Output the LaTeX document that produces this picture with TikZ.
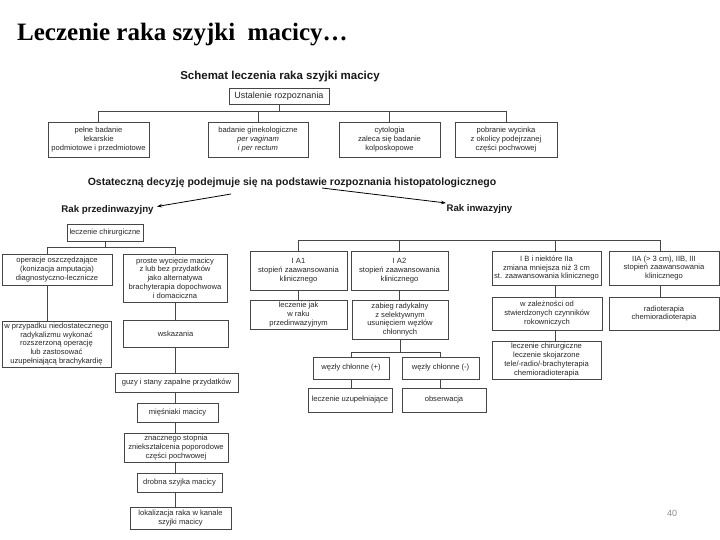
\documentclass[tikz,border=0pt]{standalone}
\usepackage{fontspec}
\setmainfont{Liberation Sans}
\newfontfamily\titlefont{Liberation Serif}
\usetikzlibrary{arrows.meta}
\definecolor{ink}{RGB}{40,40,40}
\definecolor{edge}{RGB}{70,70,70}
\tikzset{
  box/.style={draw=edge, line width=0.8pt, fill=white, align=center, inner sep=0pt,
    font=\fontsize{7.6}{8.8}\selectfont, text=ink},
  conn/.style={draw=edge, line width=0.8pt},
  arr/.style={draw=black, line width=0.8pt, -{Stealth[length=5pt,width=3.5pt]}},
  head/.style={font=\bfseries\fontsize{10.5}{12}\selectfont, text=black!90, inner sep=0pt},
}
\begin{document}
\begin{tikzpicture}[x=1pt,y=-1pt]
\useasboundingbox (0,0) rectangle (720,540);
% title
\node[anchor=west, inner sep=0pt, font=\titlefont\bfseries\fontsize{25}{28}\selectfont] (title) at (17,35) {Leczenie raka szyjki~ macicy\ldots};
\node[head, font=\bfseries\fontsize{11.5}{13}\selectfont] (sch) at (280,77) {Schemat leczenia raka szyjki macicy};
\node[box, minimum width=100, minimum height=16, font=\fontsize{9}{10}\selectfont] (ust) at (279,96) {Ustalenie rozpoznania};
% row 1
\node[box, minimum width=101, minimum height=35] (b1) at (98.5,139.5) {pełne badanie\\lekarskie\\podmiotowe i przedmiotowe};
\node[box, minimum width=100, minimum height=35] (b2) at (258,139.5) {badanie ginekologiczne\\\textit{per vaginam}\\\textit{i per rectum}};
\node[box, minimum width=101, minimum height=35] (b3) at (389.5,139.5) {cytologia\\zaleca się badanie\\kolposkopowe};
\node[box, minimum width=102, minimum height=35] (b4) at (506,139.5) {pobranie wycinka\\z okolicy podejrzanej\\części pochwowej};
\coordinate (bar1) at (0,111);
\draw[conn] (ust.south) -- (ust.south |- bar1);
\draw[conn] (b1.north) -- (b1.north |- bar1) -- (b4.north |- bar1) -- (b4.north);
\draw[conn] (b2.north) -- (b2.north |- bar1);
\draw[conn] (b3.north) -- (b3.north |- bar1);
% decision
\node[head] (dec) at (292,183) {Ostateczną decyzję podejmuje się na podstawie rozpoznania histopatologicznego};
\node[head, font=\bfseries\fontsize{9.7}{11}\selectfont] (rp) at (107.5,210) {Rak przedinwazyjny};
\node[head, font=\bfseries\fontsize{9.6}{11}\selectfont] (ri) at (479.5,209) {Rak inwazyjny};
\coordinate (tl) at (231,194);
\coordinate (tr) at (322,188);
\draw[arr] (tl) -- (157,206.5) coordinate (hl);
\draw[arr] (tr) -- (446,203) coordinate (hr);
% left branch
\node[box, minimum width=76, minimum height=17] (lc) at (105,232.5) {leczenie chirurgiczne};
\node[box, minimum width=110, minimum height=31] (op) at (57,269.5) {operacje oszczędzające\\(konizacja amputacja)\\diagnostyczno-lecznicze};
\node[box, minimum width=104, minimum height=48] (pw) at (175,278) {proste wycięcie macicy\\z lub bez przydatków\\jako alternatywa\\brachyterapia dopochwowa\\i domaciczna};
\node[box, minimum width=109, minimum height=46] (wp) at (56.5,344) {w przypadku niedostatecznego\\radykalizmu wykonać\\rozszerzoną operację\\lub zastosować\\uzupełniającą brachykardię};
\node[box, minimum width=105, minimum height=27] (wsk) at (175.5,333.5) {wskazania};
\node[box, minimum width=123, minimum height=19] (guzy) at (176.5,382.5) {guzy i stany zapalne przydatków};
\node[box, minimum width=81, minimum height=19] (mie) at (177.5,412.5) {mięśniaki macicy};
\node[box, minimum width=104, minimum height=29] (zna) at (176,447.5) {znacznego stopnia\\zniekształcenia poporodowe\\części pochwowej};
\node[box, minimum width=85, minimum height=19] (dro) at (179.5,482.5) {drobna szyjka macicy};
\node[box, minimum width=101, minimum height=22] (lok) at (180.5,518) {lokalizacja raka w kanale\\szyjki macicy};
\coordinate (bar2) at (0,247);
\draw[conn] (lc.south) -- (lc.south |- bar2);
\draw[conn] ([xshift=-10pt]op.north) -- ([xshift=-10pt]op.north |- bar2) -- (pw.north |- bar2) -- (pw.north);
\draw[conn] ([xshift=-10pt]op.south) -- ([xshift=-10pt]op.south |- wp.north);
\draw[conn] (pw.south) -- (pw.south |- wsk.north);
\draw[conn] (pw.south |- wsk.south) -- (pw.south |- guzy.north);
\draw[conn] (pw.south |- guzy.south) -- (pw.south |- mie.north);
\draw[conn] (pw.south |- mie.south) -- (pw.south |- zna.north);
\draw[conn] (pw.south |- zna.south) -- (pw.south |- dro.north);
\draw[conn] (pw.south |- dro.south) -- (pw.south |- lok.north);
% right branch
\node[box, minimum width=97, minimum height=39] (ia1) at (298.5,270.5) {I A1\\stopień zaawansowania\\klinicznego};
\node[box, minimum width=97, minimum height=39] (ia2) at (399.5,270.5) {I A2\\stopień zaawansowania\\klinicznego};
\node[box, minimum width=97, minimum height=29] (lj) at (298.5,314.5) {leczenie jak\\w raku\\przedinwazyjnym};
\node[box, minimum width=96, minimum height=39] (zr) at (400,319.5) {zabieg radykalny\\z selektywnym\\usunięciem węzłów\\chłonnych};
\node[box, minimum width=76, minimum height=22] (wplus) at (351,368) {węzły chłonne (+)};
\node[box, minimum width=77, minimum height=22] (wmin) at (440.5,368) {węzły chłonne (-)};
\node[box, minimum width=84, minimum height=24] (lu) at (350,400) {leczenie uzupełniające};
\node[box, minimum width=84, minimum height=24] (obs) at (444,400) {obserwacja};
\node[box, minimum width=109, minimum height=34] (ib) at (546.5,268) {I B i niektóre IIa\\zmiana mniejsza niż 3 cm\\st. zaawansowania klinicznego};
\node[box, minimum width=110, minimum height=34] (iia) at (664,268) {IIA (> 3 cm), IIB, III\\stopień zaawansowania\\klinicznego};
\node[box, minimum width=110, minimum height=33] (wz) at (547,313.5) {w zależności od\\stwierdzonych czynników\\rokowniczych};
\node[box, minimum width=110, minimum height=33] (rad) at (664,313.5) {radioterapia\\chemioradioterapia};
\node[box, minimum width=109, minimum height=38] (lcs) at (546.5,360) {leczenie chirurgiczne\\leczenie skojarzone\\tele/-radio/-brachyterapia\\chemioradioterapia};
\coordinate (bar3) at (0,240);
\draw[conn] (ia1.north) -- (ia1.north |- bar3) -- ([xshift=-4pt]iia.north |- bar3) -- ([xshift=-4pt]iia.north);
\draw[conn] (ia2.north) -- (ia2.north |- bar3);
\draw[conn] ([xshift=8.5pt]ib.north) -- ([xshift=8.5pt]ib.north |- bar3);
\draw[conn] (ia1.south) -- (ia1.south |- lj.north);
\draw[conn] (ia2.south) -- (ia2.south |- zr.north);
\coordinate (bar4) at (0,352);
\draw[conn] (zr.south) -- (zr.south |- bar4);
\draw[conn] (wplus.north) -- (wplus.north |- bar4) -- (wmin.north |- bar4) -- (wmin.north);
\draw[conn] (wplus.south) -- (wplus.south |- lu.north);
\draw[conn] (wmin.south) -- (wmin.south |- obs.north);
\draw[conn] ([xshift=8.5pt]ib.south) -- ([xshift=8.5pt]ib.south |- wz.north);
\draw[conn] ([xshift=8.5pt]ib.south |- wz.south) -- ([xshift=8.5pt]ib.south |- lcs.north);
\draw[conn] ([xshift=-4pt]iia.south) -- ([xshift=-4pt]iia.south |- rad.north);
% page number
\node[text=black!45, font=\fontsize{9}{10}\selectfont, inner sep=0pt] (pg) at (672,513) {40};
\end{tikzpicture}
\end{document}
